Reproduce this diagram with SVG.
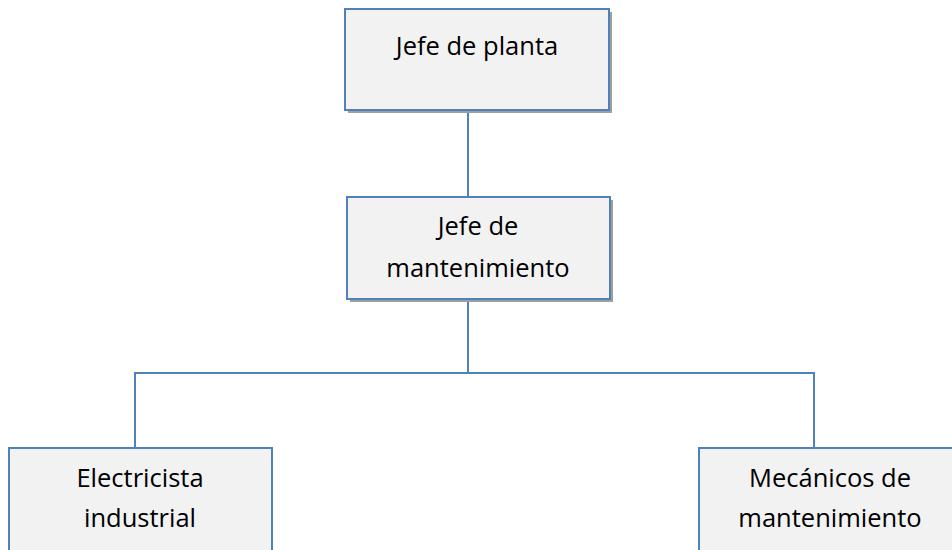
<svg xmlns="http://www.w3.org/2000/svg" width="952" height="550" viewBox="0 0 952 550">
<style>
.shadow{fill:#9e9e9e}
.box{fill:#f2f2f2;stroke:#4f81bd;stroke-width:2}
.lbl{font-family:"Open Sans","Liberation Sans",sans-serif;font-size:25.5px;fill:#000;text-anchor:middle}
.conn{fill:none;stroke:#4f81bd;stroke-width:2}
</style>
<rect width="952" height="550" fill="#fff"/>
<g id="connectors">
<line class="conn" x1="468" y1="110" x2="468" y2="197"/>
<polyline class="conn" points="468,299 468,373"/>
<polyline class="conn" points="135,448 135,373 814,373 814,448"/>
</g>
<g id="jefe-planta">
<rect class="shadow" x="348" y="12" width="264" height="101"/>
<rect class="box" x="345" y="9" width="264" height="101"/>
<text class="lbl" x="477" y="55">Jefe de planta</text>
</g>
<g id="jefe-mantenimiento">
<rect class="shadow" x="350" y="200" width="263" height="102"/>
<rect class="box" x="347" y="197" width="263" height="102"/>
<text class="lbl" x="478" y="235">Jefe de</text>
<text class="lbl" x="478" y="277">mantenimiento</text>
</g>
<g id="electricista">
<rect class="box" x="9" y="448" width="263" height="110"/>
<text class="lbl" x="140" y="487">Electricista</text>
<text class="lbl" x="140" y="527">industrial</text>
</g>
<g id="mecanicos">
<rect class="box" x="699" y="448" width="263" height="110"/>
<text class="lbl" x="830" y="487">Mecánicos de</text>
<text class="lbl" x="830" y="527">mantenimiento</text>
</g>
</svg>
